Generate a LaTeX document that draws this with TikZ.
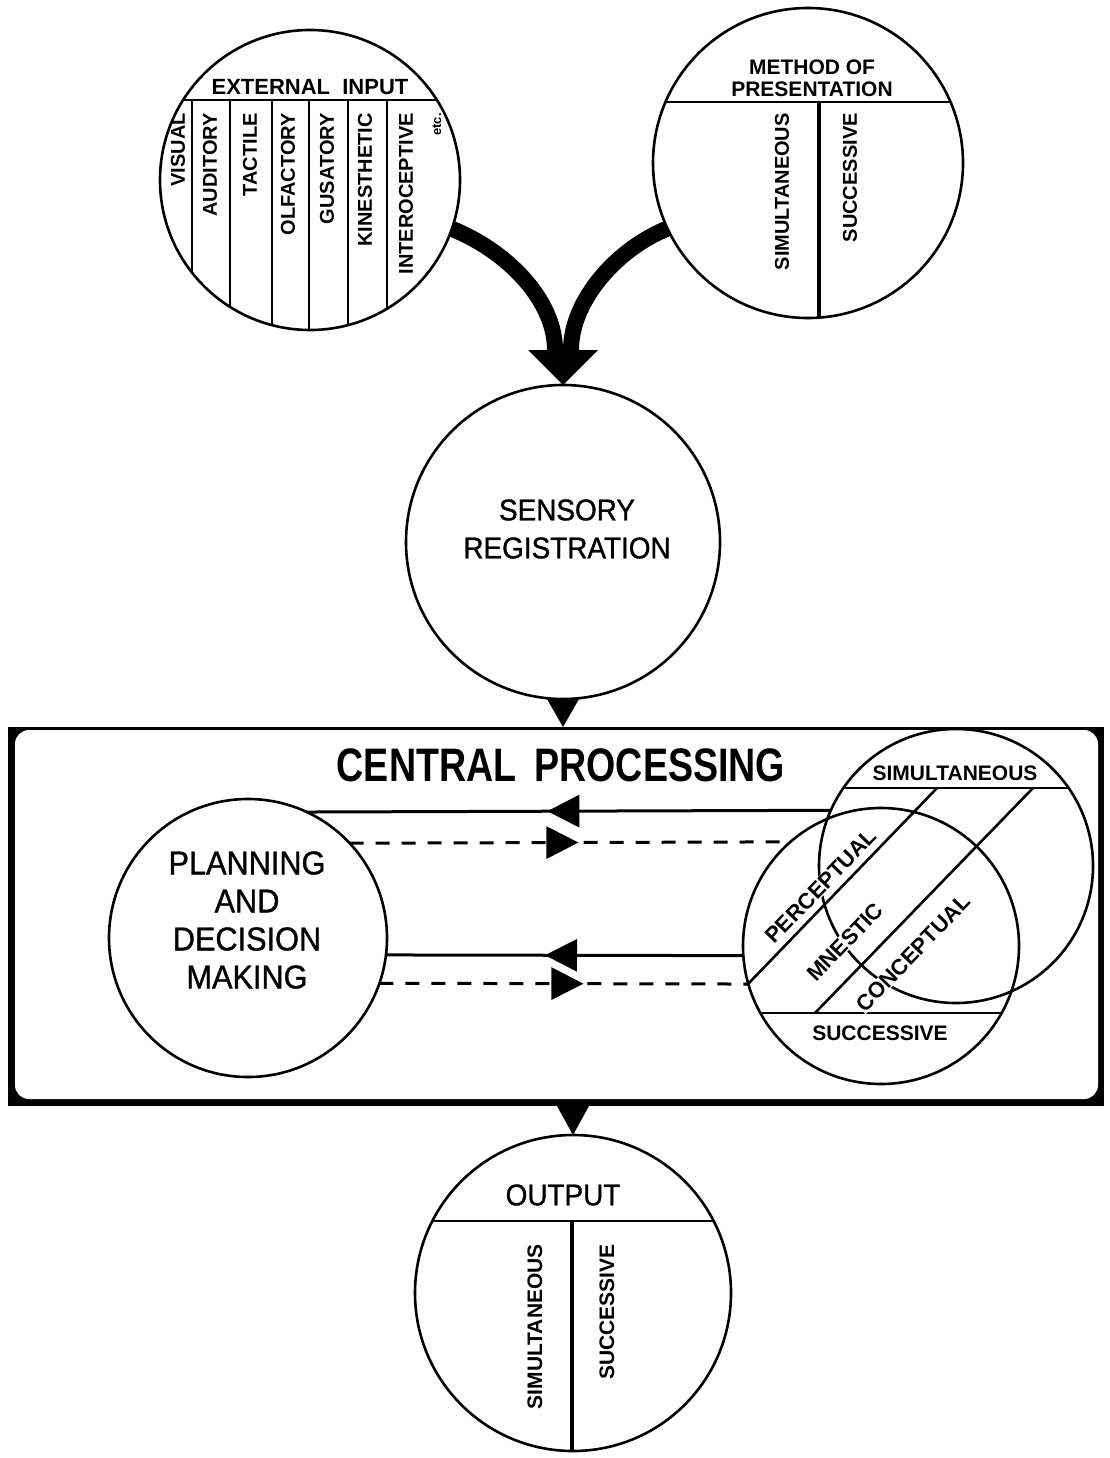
\documentclass[tikz,border=0pt]{standalone}
\usepackage{fontspec}
\setmainfont{Liberation Sans}
\newfontfamily\condfont[FakeStretch=0.8]{Liberation Sans}
\newfontfamily\medfont[FakeBold=1,FakeStretch=0.93]{Liberation Sans}
\usepackage{tikz}
\usetikzlibrary{arrows.meta,decorations.markings}

\begin{document}
\begin{tikzpicture}[x=1pt,y=-1pt,line width=2.6pt,
  ball/.style={draw,circle,inner sep=0pt,outer sep=0pt,minimum size=#1},
  head/.style={font=\bfseries\fontsize{21}{22}\selectfont,align=center,inner sep=0pt},
  col/.style={rotate=90,anchor=east,inner sep=0pt,
    font=\bfseries\fontsize{20}{20}\selectfont},
  mid/.style={font=\medfont\fontsize{30}{38}\selectfont,align=center,inner sep=0pt},
  big/.style={font=\medfont\fontsize{33}{38}\selectfont,align=center,inner sep=0pt},
  diag/.style={rotate=46,fill=white,inner sep=0.5pt,
    font=\bfseries\fontsize{22}{22}\selectfont},
  band/.style={line width=16pt},
  divider/.style={line width=3.6pt},
  flow/.style={line width=3pt,postaction={decorate},
    decoration={markings,mark=at position #1 with
      {\arrow{Triangle[length=32pt,width=32pt]}}}},
  back/.style={flow=#1,dash pattern=on 14pt off 12pt}
]
\useasboundingbox (0,0) rectangle (1110,1458);

\node[ball=300pt] (ext) at (310,180) {};
\begin{scope}
  \clip (ext.center) circle[radius=150];
  \draw (150,100) -- (470,100);
  \foreach \x in {192,230,272,309,348,387}
    \draw (\x,100) -- (\x,340);
\end{scope}
\node[head,font=\bfseries\fontsize{22}{22}\selectfont] (ext-t) at (310,87) {EXTERNAL\ \ INPUT};
\foreach \x/\t [count=\i] in {178/VISUAL,210/AUDITORY,250/TACTILE,288/OLFACTORY,
    327/GUSATORY,365/KINESTHETIC,406/INTEROCEPTIVE}
  \node[col] (sense\i) at (\x,112) {\t};
\node[col,font=\bfseries\fontsize{13}{13}\selectfont] (sense-etc) at (437,112) {etc.};

\node[ball=310pt] (meth) at (808,163) {};
\begin{scope}
  \clip (meth.center) circle[radius=155];
  \draw (640,102) -- (980,102);
  \draw[divider] (819,102) -- (819,330);
\end{scope}
\node[head] (meth-t) at (812,78) {METHOD OF\\PRESENTATION};
\node[col] (meth-sim) at (782,112) {SIMULTANEOUS};
\node[col] (meth-suc) at (850,112) {SUCCESSIVE};

\node[ball=314pt] (sens) at (563,542) {};
\node[mid] (sens-t) at (567,529) {SENSORY\\REGISTRATION};

\coordinate (mrg) at ([yshift=35pt]sens.north);
\draw[band] (ext.-19.5) .. controls +(55,22) and +(0,-50) .. ([xshift=-8pt]mrg);
\draw[band] (meth.-155.4) .. controls +(-50,20) and +(0,-50) .. ([xshift=8pt]mrg);
\fill (mrg) ++(-35,0) -- ++(70,0) -- (sens.north) -- cycle;

\node[minimum width=1096pt,minimum height=379pt,inner sep=0pt,outer sep=0pt] (cp) at (556,916.5) {};
\fill (cp.north west) rectangle (cp.south east);
\fill[white,rounded corners=14pt] ([shift={(7,3)}]cp.north west) rectangle ([shift={(-6,-7)}]cp.south east);
\fill (sens.south) ++(-16,0) -- ++(32,0) -- (sens.south |- cp.north) -- cycle;
\node[inner sep=0pt,font=\condfont\bfseries\fontsize{47}{47}\selectfont] (cp-t) at (561,765)
  {CENTRAL\hspace{18pt}PROCESSING};

\node[ball=278pt] (pl) at (248,938) {};
\node[big] (pl-t) at (247,920) {PLANNING\\AND\\DECISION\\MAKING};

\node[ball=274pt] (simA) at (956,866) {};
\node[ball=276pt] (sucB) at (881,946) {};
\begin{scope}
  \clip (simA.center) circle[radius=137];
  \draw (800,788) -- (1110,788);
\end{scope}
\begin{scope}
  \clip (sucB.center) circle[radius=138];
  \draw (740,1013) -- (1030,1013);
\end{scope}
\node[head] (simA-t) at (955,773) {SIMULTANEOUS};
\node[head] (sucB-t) at (880,1033) {SUCCESSIVE};
\node[diag] (perc) at (821,886) {PERCEPTUAL};
\node[diag] (mnes) at (845,942) {MNESTIC};
\node[diag] (conc) at (913,953) {CONCEPTUAL};
\draw (748,984) -- (937,788);
\draw (815,1013) -- (1033,788);

\draw[flow=0.541] (simA.156.8) -- (pl.65);
\draw[back=0.519] (pl.43.7) -- (sucB.131.1);
\draw[flow=0.555] (sucB.184.6) -- (pl.-7.9);
\draw[back=0.553] (pl.-19.3) -- (sucB.196);

\node[ball=316pt] (out) at (573,1293) {};
\fill (out.north |- cp.south) ++(-16,0) -- ++(32,0) -- (out.north) -- cycle;
\begin{scope}
  \clip (out.center) circle[radius=158];
  \draw (400,1221) -- (750,1221);
  \draw[divider] (572,1221) -- (572,1460);
\end{scope}
\node[mid] (out-t) at (563,1195) {OUTPUT};
\node[col,font=\bfseries\fontsize{21}{21}\selectfont] (out-sim) at (535,1243) {SIMULTANEOUS};
\node[col,font=\bfseries\fontsize{21}{21}\selectfont] (out-suc) at (607,1243) {SUCCESSIVE};
\end{tikzpicture}
\end{document}
